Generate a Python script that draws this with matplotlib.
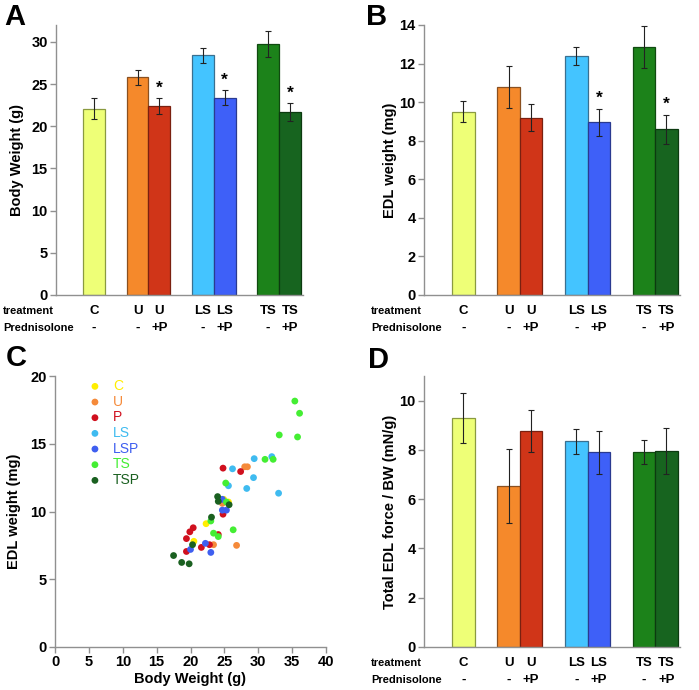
import numpy as np
import matplotlib
matplotlib.use('Agg')
import matplotlib.pyplot as plt
import matplotlib.transforms as mtransforms

plt.rcParams['font.family'] = ['Liberation Sans', 'DejaVu Sans']

# bar groups
pos = [0, 2, 3, 5, 6, 8, 9]
treat = ['C', 'U', 'U', 'LS', 'LS', 'TS', 'TS']
pred = ['-', '-', '+P', '-', '+P', '-', '+P']
bar_colors = ['#EEFF77', '#F5892B', '#D03518', '#44C4FF', '#3E60F8', '#1C821A', '#17641F']
edge_colors = ['#8A9A40', '#8A5020', '#7A2010', '#3A7090', '#2A3A90', '#104A10', '#0C3A10']

bw_mean = [22.1, 25.8, 22.4, 28.4, 23.4, 29.7, 21.7]
bw_err = [1.2, 0.9, 0.9, 0.9, 0.85, 1.55, 1.05]
bw_star = [False, False, True, False, True, False, True]

edl_mean = [9.5, 10.8, 9.2, 12.4, 8.95, 12.85, 8.6]
edl_err = [0.55, 1.1, 0.72, 0.45, 0.72, 1.1, 0.75]
edl_star = [False, False, False, False, True, False, True]

force_mean = [9.3, 6.55, 8.75, 8.35, 7.9, 7.92, 7.95]
force_err = [1.0, 1.5, 0.85, 0.5, 0.88, 0.5, 0.92]

# scatter: body weight (g), EDL weight (mg)
sc_names = ['C', 'U', 'P', 'LS', 'LSP', 'TS', 'TSP']
sc_colors = ['#FFEE00', '#F58A3A', '#D0101E', '#3FBBF0', '#3F5FF0', '#44EE33', '#1A6020']
sc_x = [
    [22.3, 20.5, 25.6, 24.9],
    [28.0, 28.4, 26.8, 23.4, 24.7],
    [24.8, 27.4, 20.4, 19.9, 19.4, 19.4, 21.6, 22.8, 24.1, 24.8],
    [26.2, 29.4, 32.0, 29.3, 28.3, 33.0, 25.6],
    [24.7, 24.7, 25.3, 22.2, 20.0, 23.0],
    [35.4, 36.1, 33.1, 35.8, 31.0, 32.2, 25.2, 26.3, 23.4, 24.1, 23.0, 25.3],
    [17.5, 18.7, 19.8, 20.3, 23.1, 24.0, 24.1, 25.7],
]
sc_y = [
    [9.1, 7.8, 10.7, 10.9],
    [13.3, 13.3, 7.5, 7.55, 10.6],
    [13.2, 12.95, 8.8, 8.5, 8.0, 7.05, 7.35, 7.55, 8.3, 9.8],
    [13.15, 13.9, 14.05, 12.5, 11.7, 11.35, 11.9],
    [10.9, 10.1, 10.1, 7.65, 7.2, 6.98],
    [18.15, 17.25, 15.65, 15.5, 13.85, 13.85, 12.1, 8.65, 8.4, 8.15, 9.3, 10.7],
    [6.75, 6.24, 6.14, 7.55, 9.58, 11.1, 10.75, 10.5],
]

fig = plt.figure(figsize=(6.99, 6.90), dpi=100)
W, H = 699, 690


def style_axes(ax):
    for s in ['top', 'right']:
        ax.spines[s].set_visible(False)
    for s in ['left', 'bottom']:
        ax.spines[s].set_color('#909090')
        ax.spines[s].set_linewidth(1.0)
    ax.tick_params(axis='y', colors='#909090', labelcolor='black', length=4, width=1, pad=2)
    for lab in ax.get_yticklabels() + ax.get_xticklabels():
        lab.set_fontweight('bold')
        lab.set_fontsize(10.5)


def letter(px, py, s):
    fig.text(px / W, 1 - py / H, s, ha='left', va='center', fontsize=21, fontweight='bold')


def bar_panel(rect, means, errs, stars, ylim, yticks, ylabel, lpad, trow_x):
    ax = fig.add_axes(rect)
    ax.bar(pos, means, width=1.0, color=bar_colors, edgecolor=edge_colors, linewidth=0.9)
    ax.errorbar(pos, means, yerr=errs, fmt='none', ecolor='#222222', elinewidth=0.8,
                capsize=2.2, capthick=0.8)
    ax.set_xlim(-1.75, 9.6)
    ax.set_ylim(*ylim)
    ax.set_yticks(yticks)
    ax.set_xticks([])
    style_axes(ax)
    ax.set_ylabel(ylabel, fontsize=10.5, fontweight='bold', labelpad=lpad)
    if stars is not None:
        for p, m, e, st in zip(pos, means, errs, stars):
            if st:
                ax.text(p, m + e + ylim[1] * 0.01, '*', ha='center', va='bottom',
                        fontsize=12.5, fontweight='bold')
    tr = mtransforms.blended_transform_factory(ax.transData, ax.transAxes)
    for p, t, pr in zip(pos, treat, pred):
        ax.text(p, -0.06, t, transform=tr, ha='center', va='center',
                fontsize=9.5, fontweight='bold')
        ax.text(p, -0.122, pr, transform=tr, ha='center', va='center',
                fontsize=9.5, fontweight='bold')
    top = rect[1]
    hgt = rect[3]
    fig.text(trow_x / W, top - 0.06 * hgt, 'treatment', ha='left', va='center',
             fontsize=8, fontweight='bold')
    fig.text(trow_x / W, top - 0.122 * hgt, 'Prednisolone', ha='left', va='center',
             fontsize=8, fontweight='bold')
    return ax


rectA = [56 / W, (H - 295) / H, (303 - 56) / W, 270 / H]
rectB = [424 / W, (H - 295) / H, (680 - 424) / W, 270 / H]
rectC = [55 / W, (H - 647) / H, 271 / W, 271 / H]
rectD = [424 / W, (H - 647) / H, (680 - 424) / W, 271 / H]

bar_panel(rectA, bw_mean, bw_err, bw_star, (0, 32), [0, 5, 10, 15, 20, 25, 30],
          'Body Weight (g)', 5, 3)
bar_panel(rectB, edl_mean, edl_err, edl_star, (0, 14), [0, 2, 4, 6, 8, 10, 12, 14],
          'EDL weight (mg)', 2, 371)
bar_panel(rectD, force_mean, force_err, None, (0, 11), [0, 2, 4, 6, 8, 10],
          'Total EDL force / BW (mN/g)', 2, 371)

# panel C scatter
axc = fig.add_axes(rectC)
for name, col, xs, ys in zip(sc_names, sc_colors, sc_x, sc_y):
    axc.scatter(xs, ys, s=24, color=col, edgecolors='none', label=name, zorder=3)
axc.set_xlim(0, 40)
axc.set_ylim(0, 20)
axc.set_xticks(range(0, 41, 5))
axc.set_yticks([0, 5, 10, 15, 20])
style_axes(axc)
axc.tick_params(axis='x', colors='#909090', labelcolor='black', length=4, width=1, pad=2)
axc.set_xlabel('Body Weight (g)', fontsize=10.5, fontweight='bold', labelpad=2)
axc.set_ylabel('EDL weight (mg)', fontsize=10.5, fontweight='bold', labelpad=7)
leg = axc.legend(loc='upper left', bbox_to_anchor=(0.05, 1.035), frameon=False,
                 fontsize=10, labelspacing=0.12, handletextpad=0.3,
                 markerscale=1.0, labelcolor='markerfacecolor')

letter(4, 17, 'A')
letter(366, 17, 'B')
letter(6, 358, 'C')
letter(368, 360, 'D')

fig.savefig('out.png', dpi=100)
